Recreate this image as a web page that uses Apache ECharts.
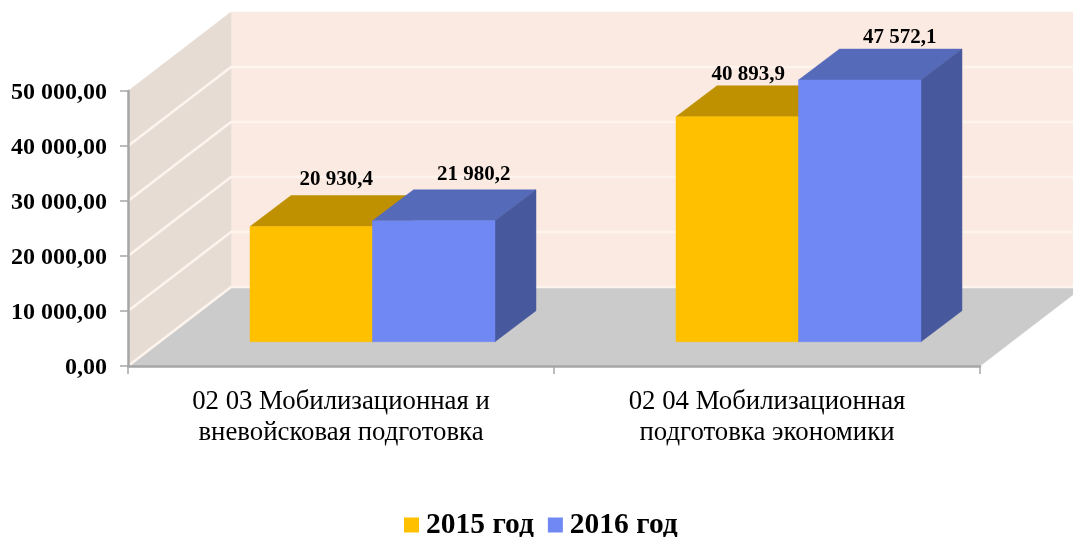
<!DOCTYPE html>
<html>
<head>
<meta charset="utf-8">
<title>Chart</title>
<script src="https://cdn.jsdelivr.net/npm/echarts@6/dist/echarts.min.js"></script>
<style>
  html, body { margin: 0; padding: 0; background: #fff; }
  #chart { width: 1073px; height: 537px; }
</style>
</head>
<body>
<div id="chart"></div>
<script>
var categories = ['02 03 Мобилизационная и\nвневойсковая подготовка', '02 04 Мобилизационная\nподготовка экономики'];
var values2015 = [20930.4, 40893.9];
var values2016 = [21980.2, 47572.1];
var yTicks = [0, 10000, 20000, 30000, 40000, 50000];

var FONT = '"Liberation Serif", "Times New Roman", serif';

// fake 3d: how far the back wall sits from the axis plane, in px
var ROOM_DX = 103;
var ROOM_DY = 79;
// bars stand a bit in from the front edge of the floor
var FRONT_DX = 31.5;
var FRONT_DY = 24.3;
var BAR_DX = 41;
var BAR_DY = 31;
var BAR_SHARE = 0.2875; // of the category band

// hand placed labels in the original, offset from the middle of the bar's back top edge
var labelShift2015 = [[-16, -16], [-30, -11]];
var labelShift2016 = [[-1, -15], [-1, -11]];

function formatNumber(v, digits) {
  var parts = v.toFixed(digits).split('.');
  return parts[0].replace(/\B(?=(\d{3})+$)/g, ' ') + ',' + parts[1];
}

function poly(points, fill, z2) {
  return {
    type: 'polygon',
    z2: z2 || 0,
    shape: { points: points },
    style: { fill: fill, stroke: fill, lineWidth: 0.5 }
  };
}

function renderRoom(params, api) {
  var y = api.coord([0, api.value(1)])[1];
  var band = api.size([1, 0])[0];
  var left = api.coord([0, 0])[0] - band / 2;
  var right = api.coord([1, 0])[0] + band / 2;
  var children = [];

  if (params.dataIndex === 0) {
    var yTop = api.coord([0, yTicks[yTicks.length - 1]])[1];
    children.push(poly([[left + ROOM_DX, yTop - ROOM_DY], [right + ROOM_DX, yTop - ROOM_DY], [right + ROOM_DX, y - ROOM_DY], [left + ROOM_DX, y - ROOM_DY]], '#fbeae1'));
    children.push(poly([[left, yTop], [left + ROOM_DX, yTop - ROOM_DY], [left + ROOM_DX, y - ROOM_DY], [left, y]], '#e6dcd4'));
    children.push(poly([[left, y], [left + ROOM_DX, y - ROOM_DY], [right + ROOM_DX, y - ROOM_DY], [right, y]], '#cbcbcb'));
  }

  // white grid line running along the side wall and the back wall
  if (params.dataIndex < yTicks.length - 1) {
    children.push({
      type: 'polyline',
      z2: 1,
      shape: { points: [[left, y], [left + ROOM_DX, y - ROOM_DY], [right + ROOM_DX, y - ROOM_DY]] },
      style: { fill: null, stroke: '#fdf4ee', lineWidth: 2.6 }
    });
  }
  return { type: 'group', children: children };
}

function barRenderer(slot, colors, shifts) {
  return function (params, api) {
    var cat = api.value(0);
    var val = api.value(1);
    var center = api.coord([cat, 0])[0];
    var y0 = api.coord([cat, 0])[1];
    var h = y0 - api.coord([cat, val])[1];
    var w = api.size([1, 0])[0] * BAR_SHARE;

    var x1 = center + FRONT_DX + slot * w;
    var x2 = x1 + w;
    var bottom = y0 - FRONT_DY;
    var top = bottom - h;
    var shift = shifts[params.dataIndex];

    return {
      type: 'group',
      children: [
        poly([[x1, top], [x1 + BAR_DX, top - BAR_DY], [x2 + BAR_DX, top - BAR_DY], [x2, top]], colors.top),
        poly([[x2, top], [x2 + BAR_DX, top - BAR_DY], [x2 + BAR_DX, bottom - BAR_DY], [x2, bottom]], colors.side),
        poly([[x1, top], [x2, top], [x2, bottom], [x1, bottom]], colors.front),
        {
          type: 'text',
          z2: 5,
          x: (x1 + x2) / 2 + BAR_DX + shift[0],
          y: top - BAR_DY + shift[1],
          style: {
            text: formatNumber(val, 1),
            font: 'bold 21px ' + FONT,
            fill: '#000',
            align: 'center',
            verticalAlign: 'middle'
          }
        }
      ]
    };
  };
}

var myChart = echarts.init(document.getElementById('chart'), null, { renderer: 'canvas' });

var option = {
  animation: false,
  backgroundColor: '#fff',
  grid: { left: 128, right: 93, top: 91, height: 275 },
  legend: {
    data: ['2015 год', '2016 год'],
    left: 404,
    top: 510,
    padding: 0,
    itemWidth: 15,
    itemHeight: 15,
    itemGap: 14,
    icon: 'rect',
    selectedMode: false,
    textStyle: { fontFamily: FONT, fontWeight: 'bold', fontSize: 29.5, color: '#000', padding: [0, 0, 0, 2] }
  },
  xAxis: {
    type: 'category',
    data: categories,
    z: 5,
    axisLine: { lineStyle: { color: '#a6a6a6', width: 2.5 } },
    axisTick: { show: true, length: 8, lineStyle: { color: '#a6a6a6', width: 1.5 } },
    axisLabel: { margin: 20, color: '#000', fontFamily: FONT, fontSize: 26.8, lineHeight: 31 }
  },
  yAxis: {
    type: 'value',
    min: 0,
    max: 50000,
    interval: 10000,
    z: 5,
    axisLine: { show: true, lineStyle: { color: '#a6a6a6', width: 2.5 } },
    axisTick: { show: true, length: 8, lineStyle: { color: '#a6a6a6', width: 1.5 } },
    splitLine: { show: false },
    axisLabel: {
      margin: 21,
      color: '#000',
      fontFamily: FONT,
      fontWeight: 'bold',
      fontSize: 24,
      verticalAlign: 'top',
      lineHeight: 4,
      formatter: function (v) { return formatNumber(v, 2); }
    }
  },
  series: [
    {
      name: 'room',
      type: 'custom',
      z: 1,
      silent: true,
      renderItem: renderRoom,
      encode: { x: 0, y: 1 },
      data: yTicks.map(function (t) { return [0, t]; })
    },
    {
      name: '2015 год',
      type: 'custom',
      z: 2,
      itemStyle: { color: '#ffc000' },
      renderItem: barRenderer(-1, { front: '#ffc000', top: '#bf9000', side: '#bf9000' }, labelShift2015),
      encode: { x: 0, y: 1 },
      data: values2015.map(function (v, i) { return [i, v]; })
    },
    {
      name: '2016 год',
      type: 'custom',
      z: 3,
      itemStyle: { color: '#7088f4' },
      renderItem: barRenderer(0, { front: '#7088f4', top: '#566aba', side: '#47589c' }, labelShift2016),
      encode: { x: 0, y: 1 },
      data: values2016.map(function (v, i) { return [i, v]; })
    }
  ]
};

myChart.setOption(option);
window.addEventListener('resize', myChart.resize);
</script>
</body>
</html>
